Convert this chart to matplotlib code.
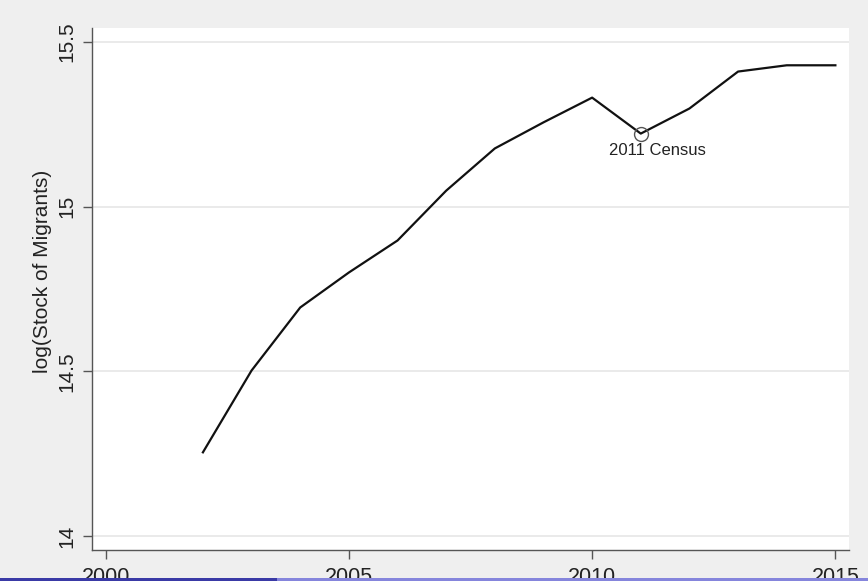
import matplotlib
matplotlib.use("Agg")
import matplotlib.pyplot as plt
from matplotlib.patches import Rectangle

plt.rcParams['font.family'] = ['Liberation Sans', 'DejaVu Sans']

# Yearly log stock of migrants
years = [2002, 2003, 2004, 2005, 2006, 2007, 2008, 2009, 2010, 2011, 2012, 2013, 2014, 2015]
log_stock = [14.255, 14.503, 14.694, 14.80, 14.897, 15.048, 15.176, 15.255, 15.33,
             15.221, 15.297, 15.409, 15.428, 15.428]
census_year = 2011
census_label = "2011 Census"
x_ticks = [2000, 2005, 2010, 2015]
y_ticks = [14, 14.5, 15, 15.5]
y_tick_labels = ["14", "14.5", "15", "15.5"]

W, H = 868, 581
fig = plt.figure(figsize=(W / 100, H / 100), dpi=100, facecolor="#efefef")
ax = fig.add_axes([92 / W, (H - 550) / H, (849 - 92) / W, (550 - 28) / H])
ax.set_facecolor("white")

ax.set_xlim(1999.72, 2015.28)
ax.set_ylim(13.959, 15.541)

for v in y_ticks:
    ax.axhline(v, color="#e6e6e6", lw=1.2, zorder=1)

ax.plot(years, log_stock, color="#111111", lw=1.6, zorder=3)

ci = years.index(census_year)
ax.plot([census_year], [log_stock[ci]], marker="o", ms=10, mfc="none",
        mec="#555555", mew=1.0, zorder=4)
ax.annotate(census_label, (census_year, log_stock[ci]), xytext=(-23, -7),
            textcoords="offset points", ha="left", va="top",
            fontsize=12, color="#222222", zorder=5)

for s in ["top", "right"]:
    ax.spines[s].set_visible(False)
for s in ["left", "bottom"]:
    ax.spines[s].set_color("#555555")
    ax.spines[s].set_linewidth(1.0)

ax.set_xticks(x_ticks)
ax.set_xticklabels([str(t) for t in x_ticks], fontsize=15.5)
ax.set_yticks(y_ticks)
ax.set_yticklabels(y_tick_labels, fontsize=15, rotation=90, va="center")
ax.tick_params(axis="both", direction="out", length=6.5, width=1.0, color="#555555",
               labelcolor="#222222")
ax.tick_params(axis="y", pad=5)
ax.tick_params(axis="x", pad=6)

ax.set_ylabel("log(Stock of Migrants)", fontsize=15, color="#222222")
ax.yaxis.set_label_coords(-0.053, 0.534)

# slide navigation strip along the bottom edge
fig.patches.append(Rectangle((0, 0), 277 / W, 3.5 / H, transform=fig.transFigure,
                             facecolor="#3a3aa6", edgecolor="none", zorder=10))
fig.patches.append(Rectangle((277 / W, 0), 1 - 277 / W, 3.5 / H, transform=fig.transFigure,
                             facecolor="#8585dc", edgecolor="none", zorder=10))

fig.savefig("out.png", dpi=100, facecolor=fig.get_facecolor())
